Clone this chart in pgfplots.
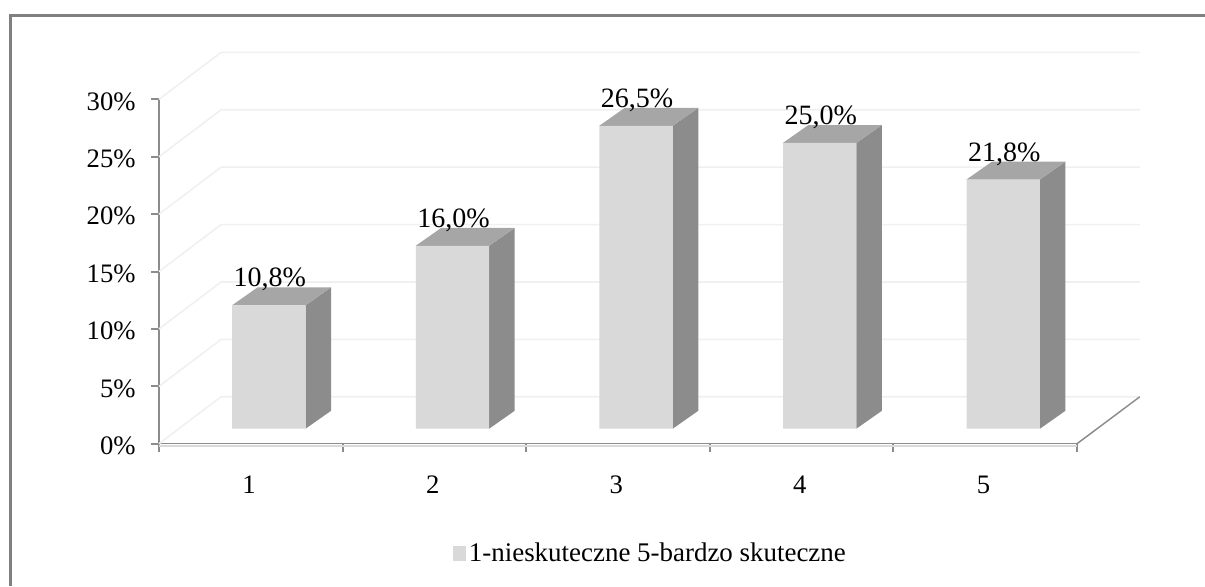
\documentclass[border=0pt]{standalone}
\usepackage{pgfplots}
\pgfplotsset{compat=1.18}
\usepackage{fontspec}
\setmainfont{Liberation Serif}
\definecolor{barfront}{HTML}{D9D9D9}
\definecolor{barside}{HTML}{8C8C8C}
\definecolor{bartop}{HTML}{A6A6A6}
\definecolor{gridc}{HTML}{F0F0F0}
\definecolor{axisc}{HTML}{8C8C8C}
\begin{document}
\begin{tikzpicture}
\path[use as bounding box] (0pt,0pt) rectangle (903.75pt,439.5pt);
% outer frame
\draw[color=black!50,line width=2.25pt] (8.1pt,0pt) -- (8.1pt,427.9pt) -- (903.75pt,427.9pt);
\begin{axis}[
  at={(119.25pt,106.7pt)},anchor=south west,
  scale only axis,width=688.5pt,height=258.3pt,
  xmin=0.5,xmax=5.5,ymin=0,ymax=30,clip=false,
  axis x line=bottom,axis y line=left,
  axis line style={-,color=axisc,line width=1.1pt},
  xtick={1,2,3,4,5},
  minor xtick={0.5,1.5,2.5,3.5,4.5,5.5},
  ytick={0,5,10,15,20,25,30},
  yticklabel={\pgfmathprintnumber{\tick}\%},
  tick align=outside,
  major tick length=6pt,minor tick length=6pt,
  major x tick style={draw=none},
  tick style={color=axisc,line width=1.5pt},
  /pgf/number format/assume math mode=true,
  tick label style={font=\fontsize{20}{22}\selectfont,text=black},
  xticklabel style={yshift=-14.7pt,xshift=-1.3pt},
  yticklabel style={xshift=-8pt,yshift=-1.5pt},
]
\addplot[draw=gridc,line width=1.2pt,forget plot] coordinates {(0.5,0) (0.838,4.09) (5.842,4.09)};
\addplot[draw=gridc,line width=1.2pt,forget plot] coordinates {(0.5,5) (0.838,9.09) (5.842,9.09)};
\addplot[draw=gridc,line width=1.2pt,forget plot] coordinates {(0.5,10) (0.838,14.09) (5.842,14.09)};
\addplot[draw=gridc,line width=1.2pt,forget plot] coordinates {(0.5,15) (0.838,19.09) (5.842,19.09)};
\addplot[draw=gridc,line width=1.2pt,forget plot] coordinates {(0.5,20) (0.838,24.09) (5.842,24.09)};
\addplot[draw=gridc,line width=1.2pt,forget plot] coordinates {(0.5,25) (0.838,29.09) (5.842,29.09)};
\addplot[draw=gridc,line width=1.2pt,forget plot] coordinates {(0.5,30) (0.838,34.09) (5.842,34.09)};
\addplot[draw=axisc,line width=1.1pt,forget plot] coordinates {(5.5,0) (5.842,4.09)};
\addplot[draw=gridc!80!gray,line width=1pt,forget plot] coordinates {(0.5,-0.2) (5.5,-0.2)};
\end{axis}
\begin{axis}[
  at={(132.75pt,117.95pt)},anchor=south west,
  scale only axis,width=688.5pt,height=257.2pt,
  xmin=0.5,xmax=5.5,ymin=0,ymax=30,clip=false,
  hide axis,
  legend style={at={(0.516,-0.3635)},anchor=center,draw=none,fill=none,
    font=\fontsize{20.2}{22}\selectfont,inner sep=0pt,
    /tikz/every even column/.style={column sep=2pt}},
]
% side faces
\addplot[fill=barside,draw=none,forget plot] coordinates {(1.2,0) (1.339,1.57) (1.339,12.37) (1.2,10.8)} -- cycle;
\addplot[fill=barside,draw=none,forget plot] coordinates {(2.2,0) (2.339,1.57) (2.339,17.57) (2.2,16.0)} -- cycle;
\addplot[fill=barside,draw=none,forget plot] coordinates {(3.2,0) (3.339,1.57) (3.339,28.07) (3.2,26.5)} -- cycle;
\addplot[fill=barside,draw=none,forget plot] coordinates {(4.2,0) (4.339,1.57) (4.339,26.57) (4.2,25.0)} -- cycle;
\addplot[fill=barside,draw=none,forget plot] coordinates {(5.2,0) (5.339,1.57) (5.339,23.37) (5.2,21.8)} -- cycle;
% top faces
\addplot[fill=bartop,draw=none,forget plot] coordinates {(0.8,10.8) (0.939,12.37) (1.339,12.37) (1.2,10.8)} -- cycle;
\addplot[fill=bartop,draw=none,forget plot] coordinates {(1.8,16.0) (1.939,17.57) (2.339,17.57) (2.2,16.0)} -- cycle;
\addplot[fill=bartop,draw=none,forget plot] coordinates {(2.8,26.5) (2.939,28.07) (3.339,28.07) (3.2,26.5)} -- cycle;
\addplot[fill=bartop,draw=none,forget plot] coordinates {(3.8,25.0) (3.939,26.57) (4.339,26.57) (4.2,25.0)} -- cycle;
\addplot[fill=bartop,draw=none,forget plot] coordinates {(4.8,21.8) (4.939,23.37) (5.339,23.37) (5.2,21.8)} -- cycle;
% front faces
\addplot[ybar,bar width=54.9pt,bar shift=0pt,fill=barfront,draw=none,
  legend image code/.code={\fill[barfront] (0pt,-5.6pt) rectangle (10pt,5.6pt);},
  nodes near coords={\pgfmathprintnumber[fixed,fixed zerofill,precision=1,use comma,assume math mode=true]{\pgfplotspointmeta}\%},
  every node near coord/.style={anchor=base,yshift=13.8pt,xshift=0.8pt,font=\fontsize{21}{23}\selectfont,text=black,inner sep=0pt},
] coordinates {(1,10.8) (2,16.0) (3,26.5) (4,25.0) (5,21.8)};
\legend{1-nieskuteczne 5-bardzo skuteczne}
\end{axis}
\end{tikzpicture}
\end{document}
